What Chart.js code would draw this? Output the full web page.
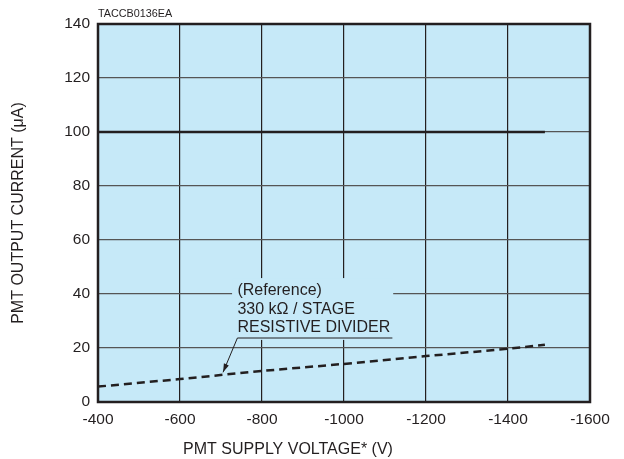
<!DOCTYPE html>
<html>
<head>
<meta charset="utf-8">
<script src="https://cdn.jsdelivr.net/npm/chart.js@4"></script>
<style>
  html, body { margin: 0; padding: 0; background: #fff; }
  #wrap { width: 624px; height: 459px; }
</style>
</head>
<body>
<div id="wrap"><canvas id="myChart" width="624" height="459"></canvas></div>
<script>
const ctx = document.getElementById("myChart").getContext("2d");

// values
const xTicks = [-400, -600, -800, -1000, -1200, -1400, -1600];
const yTicks = [0, 20, 40, 60, 80, 100, 120, 140];
const outputVoltage = [-400, -1490];
const outputCurrent = [100, 100];
const dividerVoltage = [-400, -600, -800, -1000, -1200, -1400, -1490];
const dividerCurrent = [5.7, 8.5, 11.5, 14.1, 17.0, 19.7, 21.2];
const noteLines = ["(Reference)", "330 k\u03A9 / STAGE", "RESISTIVE DIVIDER"];

const ink = "#231f20";
const fill = "#c6e9f8";
const font = "'Liberation Sans', Arial, sans-serif";

const toPoints = (xs, ys) => xs.map((x, i) => ({ x: x, y: ys[i] }));

const paperPlugin = {
    id: "paper",
    beforeDraw(chart) {
        const a = chart.chartArea;
        const c = chart.ctx;
        c.save();
        c.fillStyle = fill;
        c.fillRect(a.left, a.top, a.right - a.left, a.bottom - a.top);
        c.restore();
    },
    beforeDatasetsDraw(chart) {
        const c = chart.ctx;
        const xs = chart.scales.x, ys = chart.scales.y;
        // box behind the note hides the grid
        const bx0 = xs.getPixelForValue(-727), bx1 = xs.getPixelForValue(-1120);
        const by0 = ys.getPixelForValue(45.9), by1 = ys.getPixelForValue(23);
        c.save();
        c.fillStyle = fill;
        c.fillRect(bx0, by0, bx1 - bx0, by1 - by0);
        const tx = xs.getPixelForValue(-740);
        const ty = ys.getPixelForValue(40);
        c.fillStyle = ink;
        c.font = "16px " + font;
        c.textBaseline = "middle";
        noteLines.forEach((t, i) => c.fillText(t, tx, ty - 3 + i * 18.5));
        // underline + leader + arrow
        const uy = ty + 44;
        const ux1 = xs.getPixelForValue(-1118);
        const tip = { x: xs.getPixelForValue(-705), y: ys.getPixelForValue(11) };
        c.strokeStyle = ink;
        c.lineWidth = 1;
        c.beginPath();
        c.moveTo(ux1, uy);
        c.lineTo(tx, uy);
        c.lineTo(tip.x, tip.y);
        c.stroke();
        const ang = Math.atan2(tip.y - uy, tip.x - tx);
        c.beginPath();
        c.moveTo(tip.x, tip.y);
        c.lineTo(tip.x - 9 * Math.cos(ang - 0.3), tip.y - 9 * Math.sin(ang - 0.3));
        c.lineTo(tip.x - 9 * Math.cos(ang + 0.3), tip.y - 9 * Math.sin(ang + 0.3));
        c.closePath();
        c.fill();
        c.restore();
    },
    afterDraw(chart) {
        const a = chart.chartArea;
        const c = chart.ctx;
        c.save();
        c.strokeStyle = ink;
        c.lineWidth = 2.5;
        c.strokeRect(a.left, a.top, a.right - a.left, a.bottom - a.top);
        c.fillStyle = ink;
        c.font = "10.8px " + font;
        c.textBaseline = "alphabetic";
        c.fillText("TACCB0136EA", a.left, a.top - 7);
        c.font = "16px " + font;
        c.textAlign = "center";
        c.textBaseline = "middle";
        c.fillText("PMT SUPPLY VOLTAGE* (V)", 288, 450);
        c.restore();
    }
};

const data = {
    datasets: [
        {
            data: toPoints(outputVoltage, outputCurrent),
            borderColor: ink,
            borderWidth: 2.5,
            pointRadius: 0,
        },
        {
            data: toPoints(dividerVoltage, dividerCurrent),
            borderColor: ink,
            borderWidth: 2.5,
            borderDash: [8, 5],
            pointRadius: 0,
        },
    ],
};

const config = {
    type: 'line',
    data: data,
    plugins: [paperPlugin],
    options: {
        responsive: false,
        animation: false,
        layout: { padding: { top: 24, right: 34, left: 0, bottom: 0 } },
        plugins: { legend: { display: false }, tooltip: { enabled: false } },
        scales: {
            x: {
                type: 'linear',
                reverse: true,
                min: -1600,
                max: -400,
                afterFit: (s) => { s.height = 57; },
                afterBuildTicks: (s) => { s.ticks = xTicks.map(v => ({ value: v })); },
                ticks: {
                    color: ink, padding: 8, font: { family: font, size: 15.5 }, maxRotation: 0,
                    callback: (value) => String(value),
                },
                grid: { color: ink, lineWidth: 1.2, drawTicks: false },
                border: { display: false },
            },
            y: {
                min: 0,
                max: 140,
                afterFit: (s) => { s.width = 98; },
                afterBuildTicks: (s) => { s.ticks = yTicks.map(v => ({ value: v })); },
                ticks: {
                    color: ink, padding: 8, font: { family: font, size: 15.5 },
                    callback: (value) => String(value),
                },
                grid: { color: "#555", lineWidth: 1.2, drawTicks: false },
                border: { display: false },
                title: {
                    display: true,
                    text: "PMT OUTPUT CURRENT (\u03BCA)",
                    color: ink,
                    font: { family: font, size: 16 },
                    padding: { top: 9, bottom: 0 },
                },
            }
        }
    }
};

const myChart = new Chart(ctx, config);
</script>
</body>
</html>
